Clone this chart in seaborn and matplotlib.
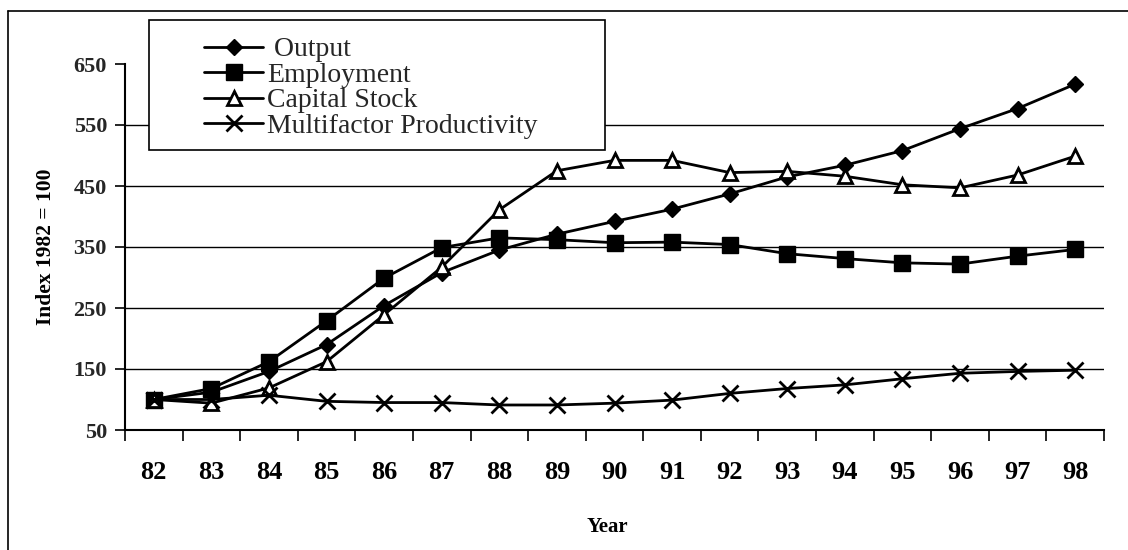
import matplotlib
matplotlib.use("Agg")
import matplotlib.pyplot as plt
import seaborn as sns
import pandas as pd
import numpy as np
from matplotlib.patches import Rectangle
from matplotlib.lines import Line2D

# ---- data ----
years = ["82", "83", "84", "85", "86", "87", "88", "89", "90",
         "91", "92", "93", "94", "95", "96", "97", "98"]
output = [100, 112, 146, 190, 254, 308, 345, 371, 392, 412, 437, 465, 484, 508, 544, 577, 617]
employment = [100, 118, 162, 229, 299, 349, 365, 362, 357, 358, 354, 339, 331, 324, 322, 335, 346]
capital_stock = [100, 94, 119, 162, 239, 317, 411, 475, 492, 492, 472, 474, 466, 452, 447, 468, 499]
mfp = [100, 100, 107, 97, 95, 95, 91, 91, 94, 99, 110, 118, 124, 134, 143, 146, 148]
series_names = ["Output", "Employment", "Capital Stock", "Multifactor Productivity"]
legend_labels = [" Output", "Employment", "Capital Stock", "Multifactor Productivity"]
y_ticks = [50, 150, 250, 350, 450, 550, 650]
grid_values = [150, 250, 350, 450, 550]

values = [output, employment, capital_stock, mfp]
df = pd.DataFrame({
    "Year": years * 4,
    "pos": list(range(len(years))) * 4,
    "Value": sum(values, []),
    "Series": sum([[n] * len(years) for n in series_names], []),
})

sns.set_theme(style="white")
plt.rcParams["font.family"] = ["Liberation Serif", "DejaVu Serif"]

W, H = 1128, 550
fig = plt.figure(figsize=(W / 100, H / 100), dpi=100)
ax = fig.add_axes([125 / W, 1 - 430 / H, (1104 - 125) / W, (430 - 64) / H])

styles = {
    "Output": dict(marker="D", markersize=8.5, markerfacecolor="black", markeredgewidth=1),
    "Employment": dict(marker="s", markersize=11, markerfacecolor="black", markeredgewidth=1),
    "Capital Stock": dict(marker="^", markersize=10, markerfacecolor="white", markeredgewidth=2),
    "Multifactor Productivity": dict(marker="x", markersize=12, markeredgewidth=2),
}

for v in grid_values:
    ax.axhline(v, color="black", lw=1.0, zorder=0.5)

for name in series_names:
    sub = df[df["Series"] == name]
    sns.lineplot(data=sub, x="pos", y="Value", ax=ax, color="black", lw=2,
                 markeredgecolor="black", legend=False, zorder=3, **styles[name])

ax.set_xlim(-0.5, len(years) - 0.5)
ax.set_ylim(50, 650)
ax.set_yticks(y_ticks)
ax.set_xticks(range(len(years)))
ax.set_xticklabels(years, fontsize=19, fontweight="bold")
ax.set_xticks(np.arange(-0.5, len(years), 1), minor=True)
for lab in ax.get_yticklabels():
    lab.set_fontsize(16)
    lab.set_fontweight("bold")
ax.tick_params(axis="x", which="major", length=0, pad=22, colors="black")
ax.tick_params(axis="x", which="minor", length=8, width=1.2, direction="out", color="black")
ax.tick_params(axis="y", which="major", length=7, width=1.2, direction="out", color="black", pad=6)
ax.tick_params(left=True, bottom=True, which="both")
for s in ["top", "right"]:
    ax.spines[s].set_visible(False)
for s in ["left", "bottom"]:
    ax.spines[s].set_color("black")
    ax.spines[s].set_linewidth(1.5)

ax.set_ylabel("Index 1982 = 100", fontsize=15.5, fontweight="bold", color="black")
ax.set_xlabel("Year", fontsize=15, fontweight="bold", color="black")
ax.yaxis.set_label_coords(-0.0705, 0.5)
ax.xaxis.set_label_coords(0.493, -0.237)

# legend box
fig.patches.append(Rectangle((149 / W, 1 - 150 / H), (605 - 149) / W, 130 / H,
                             transform=fig.transFigure, facecolor="white",
                             edgecolor="black", lw=1.2, zorder=2))
handles = [Line2D([0], [0], color="black", lw=2, markeredgecolor="black", **styles[n])
           for n in series_names]
leg = fig.legend(handles, legend_labels, loc="upper left",
                 bbox_to_anchor=(204 / W, 1 - 37 / H), frameon=False, fontsize=20,
                 handlelength=2.13, handletextpad=0.15, labelspacing=0.0,
                 borderpad=0, borderaxespad=0)
leg.set_zorder(5)

# outer frame (top and left edges)
fig.add_artist(Line2D([8 / W, 1], [1 - 11 / H, 1 - 11 / H], transform=fig.transFigure,
                      color="black", lw=1.2))
fig.add_artist(Line2D([8 / W, 8 / W], [0, 1 - 11 / H], transform=fig.transFigure,
                      color="black", lw=1.2))

fig.savefig("out.png", dpi=100, facecolor="white")
